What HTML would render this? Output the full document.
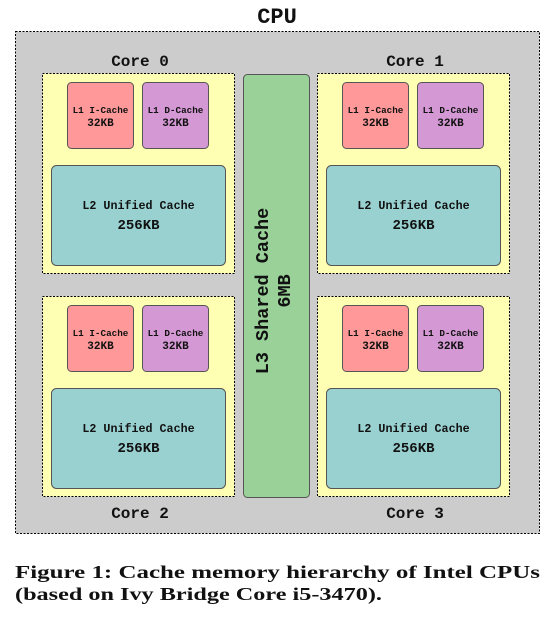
<!DOCTYPE html>
<html><head><style>
body{margin:0;background:#fff;width:554px;height:619px;overflow:hidden}
svg text.m{font-family:"Liberation Mono",monospace;font-weight:bold;fill:#111}
svg text.s{font-family:"Liberation Serif",serif;font-weight:bold;fill:#111}
</style></head><body>
<svg width="554" height="619" style="position:absolute;left:0;top:0">
<defs>
<g id="core">
<rect x="0.5" y="0.5" width="192" height="200" fill="#ffffb3" stroke="#000" stroke-dasharray="2,1.5"/>
<rect x="25.5" y="9.5" width="66" height="66" rx="4" fill="#ff9999" stroke="#555"/>
<rect x="100.5" y="9.5" width="66" height="66" rx="4" fill="#d499d4" stroke="#555"/>
<rect x="9.5" y="92.5" width="174" height="100" rx="5" fill="#99d1d1" stroke="#555"/>
<text class="m" x="58.5" y="40" font-size="9.3" text-anchor="middle">L1 I-Cache</text>
<text class="m" x="58.5" y="53" font-size="11" text-anchor="middle">32KB</text>
<text class="m" x="133.5" y="40" font-size="9.3" text-anchor="middle">L1 D-Cache</text>
<text class="m" x="133.5" y="53" font-size="11" text-anchor="middle">32KB</text>
<text class="m" x="96.5" y="136" font-size="11.7" text-anchor="middle">L2 Unified Cache</text>
<text class="m" x="96.5" y="156" font-size="14" text-anchor="middle">256KB</text>
</g>
</defs>
<text class="m" x="277" y="23" font-size="22" text-anchor="middle">CPU</text>
<rect x="15.5" y="31.5" width="524" height="502" fill="#cccccc" stroke="#000" stroke-dasharray="2,1.5"/>
<use href="#core" x="42" y="73"/>
<use href="#core" x="317" y="73"/>
<use href="#core" x="42" y="296"/>
<use href="#core" x="317" y="296"/>
<rect x="243.5" y="74.5" width="66" height="423" rx="4" fill="#99d199" stroke="#555"/>
<text class="m" transform="translate(268,291) rotate(-90)" font-size="18.5" text-anchor="middle">L3 Shared Cache</text>
<text class="m" transform="translate(290,291) rotate(-90)" font-size="18.5" text-anchor="middle">6MB</text>
<text class="m" x="140" y="66" font-size="16" text-anchor="middle">Core 0</text>
<text class="m" x="415" y="66" font-size="16" text-anchor="middle">Core 1</text>
<text class="m" x="140" y="518" font-size="16" text-anchor="middle">Core 2</text>
<text class="m" x="415" y="518" font-size="16" text-anchor="middle">Core 3</text>
<text class="s" x="15" y="578" font-size="18" textLength="525" lengthAdjust="spacingAndGlyphs">Figure 1:  Cache memory hierarchy of Intel CPUs</text>
<text class="s" x="15" y="600" font-size="18" textLength="367" lengthAdjust="spacingAndGlyphs">(based on Ivy Bridge Core i5-3470).</text>
</svg>
</body></html>
